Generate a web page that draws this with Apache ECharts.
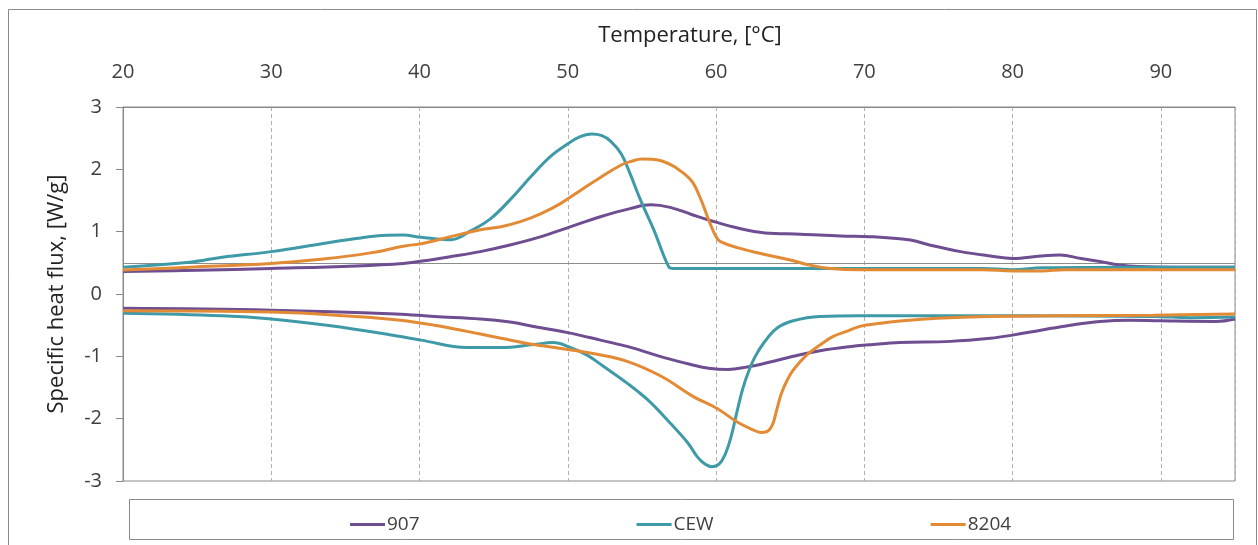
<!DOCTYPE html>
<html>
<head>
<meta charset="utf-8">
<script src="https://cdn.jsdelivr.net/npm/echarts@6/dist/echarts.min.js"></script>
<style>
  html, body { margin: 0; padding: 0; background: #ffffff; }
  #chart { width: 1258px; height: 545px; }
</style>
</head>
<body>
<div id="chart"></div>
<script>
// DSC heat-flux curves: [temperature °C, specific heat flux W/g]
// Each sample has a heating branch (upper) and a cooling branch (lower).
const seriesNames = ['907', 'CEW', '8204'];
const seriesColors = ['#6e4d91', '#3f9aa8', '#e38a35'];

const heat907 = [
  [20, 0.36], [25, 0.38], [30, 0.41], [35.7, 0.45], [38.9, 0.49], [40.2, 0.53],
  [42.1, 0.60], [44.1, 0.68], [46.1, 0.785], [48.2, 0.92], [50.2, 1.08],
  [52.2, 1.24], [54.2, 1.37], [55.6, 1.43], [56.9, 1.39], [58.3, 1.28],
  [59.6, 1.18], [61.6, 1.05], [63.3, 0.98], [65.7, 0.96], [68.4, 0.93],
  [70.4, 0.92], [73.1, 0.865], [74.4, 0.785], [76.5, 0.68], [78.5, 0.61],
  [80, 0.57], [81.9, 0.61], [83.2, 0.625], [84.6, 0.57], [85.9, 0.52],
  [87.2, 0.465], [88.5, 0.44], [91, 0.43], [95, 0.43]
];
const cool907 = [
  [20, -0.23], [30, -0.26], [38.4, -0.32], [41, -0.36], [44.1, -0.40],
  [46.1, -0.45], [47.7, -0.52], [50, -0.62], [52.2, -0.74], [54.3, -0.86],
  [56.5, -1.02], [58.3, -1.13], [59.5, -1.19], [60.8, -1.21], [62.1, -1.17],
  [63.5, -1.10], [65.2, -1.00], [67.0, -0.91], [68.8, -0.85], [70.6, -0.81],
  [72.4, -0.78], [75.8, -0.76], [78.5, -0.71], [80, -0.66], [81.9, -0.58],
  [83.9, -0.50], [85.9, -0.44], [87.9, -0.42], [90, -0.43], [93.7, -0.44],
  [95, -0.40]
];

const heatCEW = [
  [20, 0.43], [24.5, 0.51], [26.7, 0.59], [30, 0.68], [33.5, 0.81],
  [35.7, 0.89], [37.5, 0.94], [38.9, 0.945], [40.1, 0.91], [42.1, 0.87],
  [43.5, 1.02], [44.8, 1.21], [46.1, 1.51], [47.5, 1.88], [48.8, 2.2],
  [50, 2.41], [50.8, 2.52], [51.6, 2.565], [52.3, 2.54], [52.9, 2.45],
  [53.6, 2.25], [54.2, 1.93], [54.9, 1.51], [55.8, 1.03], [56.8, 0.44],
  [57.1, 0.41], [70, 0.41], [78, 0.41], [80, 0.39], [82, 0.42], [88, 0.43],
  [95, 0.43]
];
const coolCEW = [
  [20, -0.31], [26.7, -0.35], [30, -0.40], [34, -0.51], [37.4, -0.63],
  [40.1, -0.74], [43.2, -0.86], [45.5, -0.86], [47.7, -0.81], [49, -0.78],
  [50.2, -0.86], [51.3, -0.98], [52.4, -1.16], [54, -1.43], [55.4, -1.70],
  [56.9, -2.07], [58.1, -2.39], [58.7, -2.60], [59.2, -2.72], [59.7, -2.77],
  [60.2, -2.73], [60.6, -2.58], [61.0, -2.30], [61.4, -1.90], [61.8, -1.52],
  [62.2, -1.24], [62.6, -1.02], [63.2, -0.79], [64.1, -0.55], [65.2, -0.43],
  [67, -0.36], [69.7, -0.35], [80, -0.35], [89.5, -0.36], [92, -0.38],
  [95, -0.37]
];

const heat8204 = [
  [20, 0.385], [24.5, 0.43], [30, 0.49], [33.5, 0.56], [36.7, 0.66],
  [39, 0.77], [40.2, 0.81], [42.1, 0.92], [44.1, 1.03], [45.5, 1.08],
  [46.8, 1.16], [48.2, 1.29], [49.5, 1.45], [50.9, 1.67], [52.2, 1.87],
  [53.6, 2.07], [54.3, 2.13], [55, 2.165], [55.7, 2.16], [56.4, 2.13],
  [57.2, 2.04], [58.3, 1.83], [58.9, 1.56], [59.6, 1.13], [60, 0.92],
  [60.3, 0.84], [61.5, 0.74], [63, 0.65], [65, 0.545], [66.4, 0.46],
  [67.7, 0.41], [69.7, 0.39], [78, 0.39], [80, 0.37], [82, 0.37],
  [83.5, 0.39], [95, 0.39]
];
const cool8204 = [
  [20, -0.27], [30, -0.29], [35.7, -0.36], [38.7, -0.42], [41, -0.50],
  [43.2, -0.60], [45.5, -0.71], [47.7, -0.81], [50, -0.89], [51.8, -0.96],
  [54, -1.08], [56.3, -1.32], [58.5, -1.65], [60.1, -1.84], [61.4, -2.05],
  [62.5, -2.18], [63.0, -2.22], [63.4, -2.21], [63.8, -2.10], [64.1, -1.85],
  [64.4, -1.60], [64.8, -1.38], [65.2, -1.22], [66.1, -0.98], [67, -0.82],
  [67.9, -0.68], [68.8, -0.60], [69.7, -0.52], [71.1, -0.47], [72.6, -0.43],
  [74.9, -0.39], [78.3, -0.36], [82.8, -0.35], [89.5, -0.34], [95, -0.32]
];

// Horizontal axis crosses the value axis at this level
const axisCross = 0.5;

const xTicks = { min: 20, max: 95, interval: 10 };
const yTicks = { min: -3, max: 3, interval: 1 };

const branches = [
  [heat907, cool907],
  [heatCEW, coolCEW],
  [heat8204, cool8204]
];

const FONT = '"Open Sans", "Noto Sans", sans-serif';
const TEXT = '#404040';

const series = [];
branches.forEach((pair, i) => {
  pair.forEach((data, j) => {
    const s = {
      name: seriesNames[i],
      type: 'line',
      data: data,
      symbol: 'none',
      smooth: 0.4,
      color: seriesColors[i],
      lineStyle: { width: 3, color: seriesColors[i] },
      z: 3
    };
    if (i === 0 && j === 0) {
      s.markLine = {
        silent: true,
        symbol: ['none', 'none'],
        label: { show: false },
        lineStyle: { color: '#8c8c8c', width: 1, type: 'solid' },
        data: [{ yAxis: axisCross }],
        z: 1
      };
    }
    series.push(s);
  });
});

const chart = echarts.init(document.getElementById('chart'), null, { renderer: 'canvas' });
chart.setOption({
  animation: false,
  backgroundColor: '#ffffff',
  textStyle: { fontFamily: FONT },
  graphic: [
    {
      type: 'rect',
      shape: { x: 8.5, y: 9.5, width: 1248, height: 560 },
      style: { fill: 'none', stroke: '#8a8a8a', lineWidth: 1 },
      silent: true, z: -10
    },
    {
      type: 'rect',
      shape: { x: 129.5, y: 499.5, width: 1104, height: 40 },
      style: { fill: 'none', stroke: '#8a8a8a', lineWidth: 1 },
      silent: true, z: -10
    }
  ],
  grid: {
    left: 123, right: 23, top: 107, bottom: 64,
    show: true, borderColor: '#8a8a8a', borderWidth: 1,
    containLabel: false
  },
  legend: {
    data: seriesNames,
    left: 345, top: 510,
    icon: 'rect',
    itemWidth: 35, itemHeight: 3, itemGap: 217,
    textStyle: { fontFamily: FONT, fontSize: 19, color: TEXT, padding: [0, 0, 0, -3] }
  },
  xAxis: {
    type: 'value',
    position: 'top',
    min: xTicks.min, max: xTicks.max, interval: xTicks.interval,
    name: 'Temperature, [°C]',
    nameLocation: 'middle',
    nameGap: 60,
    nameTextStyle: { fontFamily: FONT, fontSize: 22, color: '#222', padding: [0, 0, 0, 22] },
    axisLine: { show: true, onZero: false, lineStyle: { color: '#8a8a8a' } },
    axisTick: { show: false },
    axisLabel: { fontFamily: FONT, fontSize: 20, color: TEXT, margin: 25, showMaxLabel: false },
    splitLine: { show: true, lineStyle: { color: '#b0b0b0', type: [4, 3], width: 1 } }
  },
  yAxis: {
    type: 'value',
    min: yTicks.min, max: yTicks.max, interval: yTicks.interval,
    name: 'Specific heat flux, [W/g]',
    nameLocation: 'middle',
    nameGap: 55,
    nameTextStyle: { fontFamily: FONT, fontSize: 22, color: '#222' },
    axisLine: { show: true, onZero: false, lineStyle: { color: '#8a8a8a' } },
    axisTick: { show: true, inside: false, length: 7, lineStyle: { color: '#8a8a8a' } },
    axisLabel: { fontFamily: FONT, fontSize: 20, color: TEXT, margin: 21 },
    splitLine: { show: false }
  },
  series: series
});
</script>
</body>
</html>
